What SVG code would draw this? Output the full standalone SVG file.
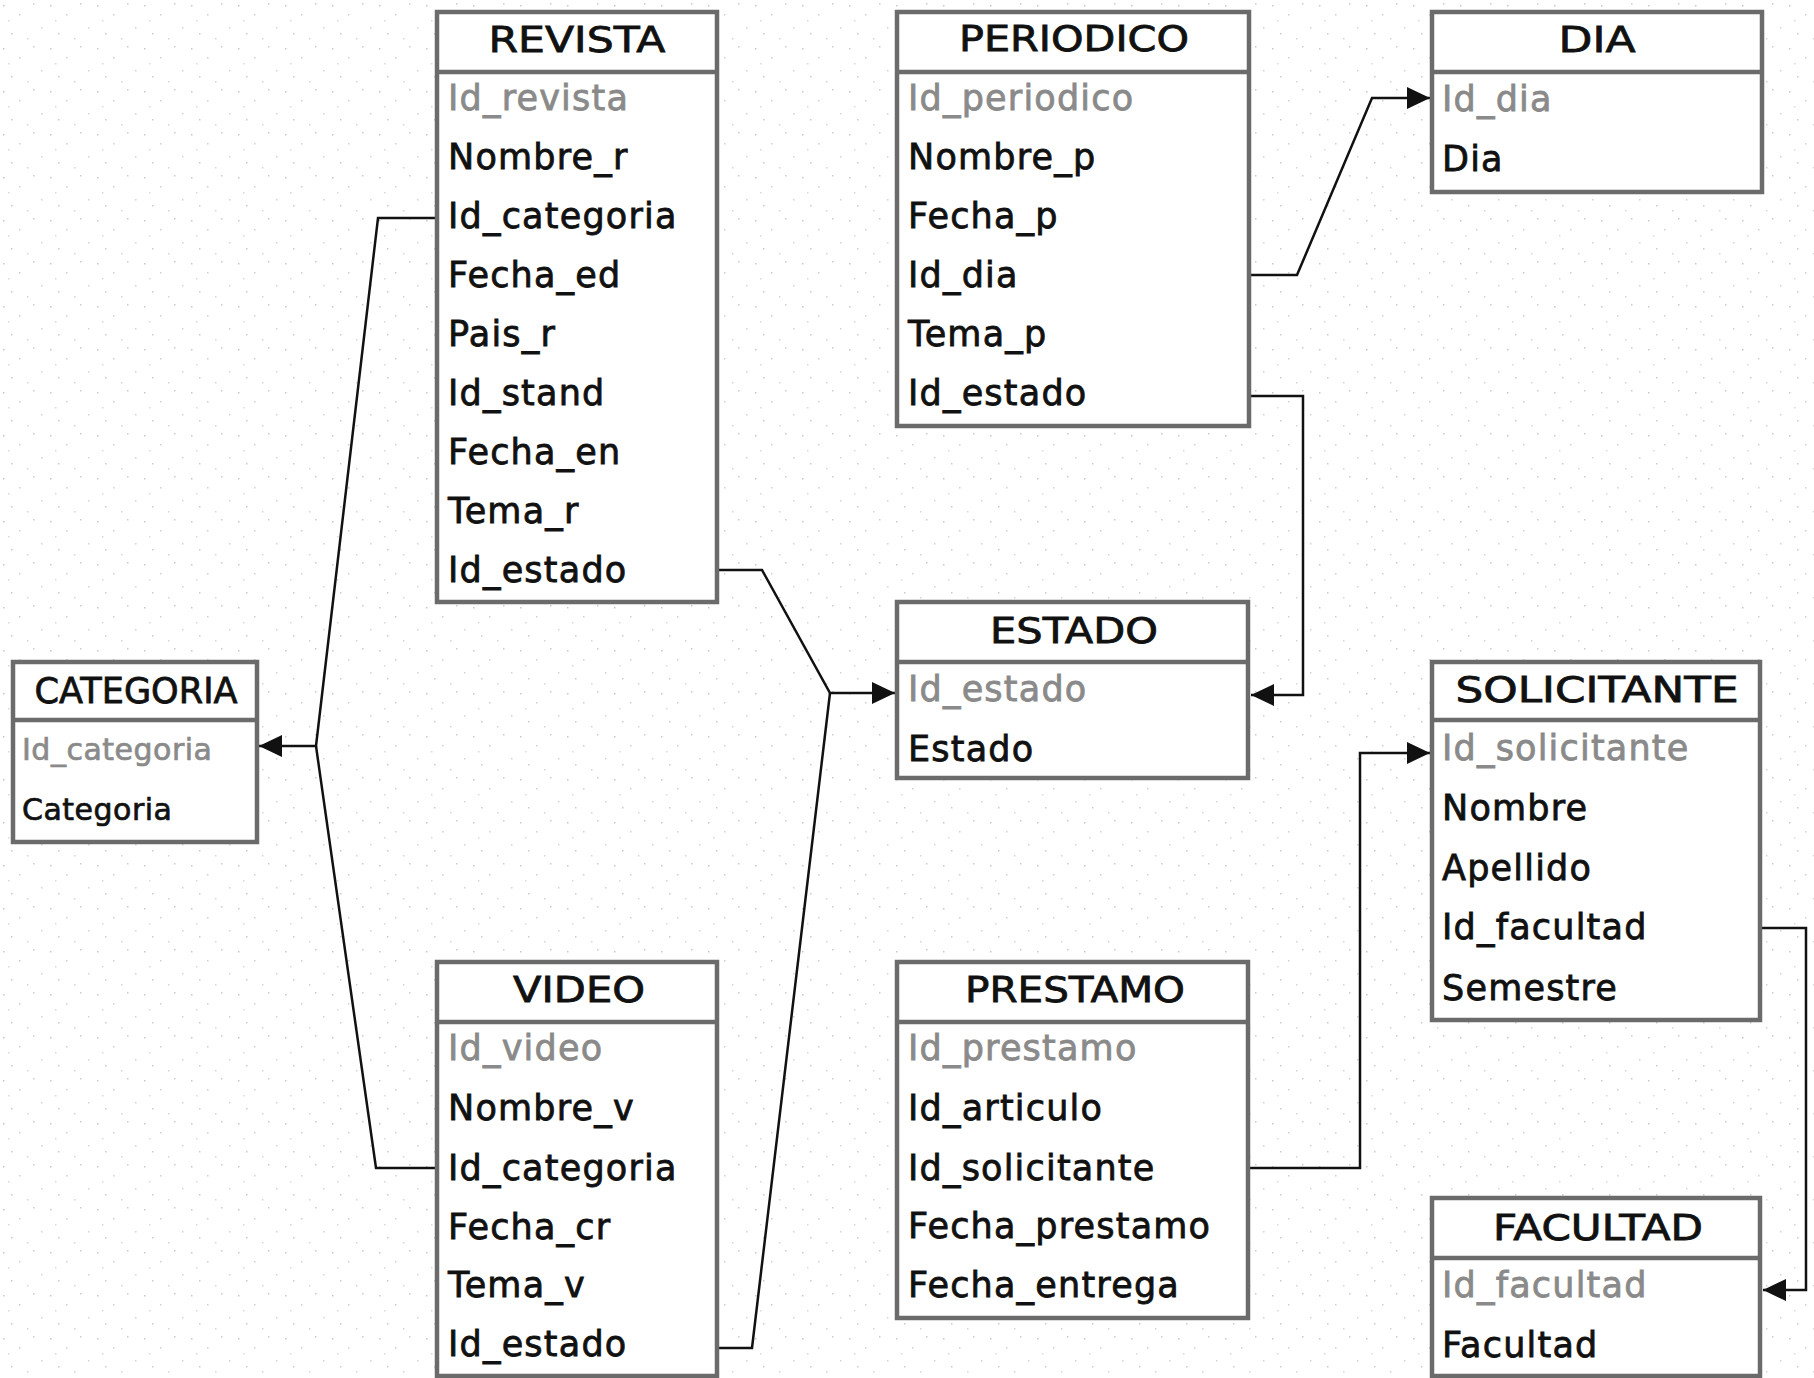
<svg xmlns="http://www.w3.org/2000/svg" width="1814" height="1378" viewBox="0 0 1814 1378">
<style>
.box{fill:#fff;stroke:#6b6b6b;stroke-width:4.5}
.sep{stroke:#6b6b6b;stroke-width:4.5}
.hd{font-family:"DejaVu Sans",sans-serif;font-size:36px;fill:#111;stroke:#111;stroke-width:0.8px;text-anchor:middle}
.f{font-family:"DejaVu Sans",sans-serif;font-size:35px;fill:#111;stroke:#111;stroke-width:0.8px;letter-spacing:1.2px}
.fs{font-family:"DejaVu Sans",sans-serif;font-size:30px;fill:#111;stroke:#111;stroke-width:0.7px;letter-spacing:0.5px}
.k{fill:#8a8a8a;stroke:#8a8a8a}
.c{fill:none;stroke:#111;stroke-width:2.5}
</style>
<defs>
<marker id="ar" markerUnits="userSpaceOnUse" markerWidth="26" markerHeight="24" refX="23" refY="11" orient="auto">
<path d="M0,0 L23,11 L0,22 z" fill="#111"/>
</marker>
<pattern id="spk" width="47" height="43" patternUnits="userSpaceOnUse">
<rect x="3" y="5" width="1.5" height="1.5" fill="#c8c8c8"/>
<rect x="19" y="14" width="1.5" height="1.5" fill="#d0d0d0"/>
<rect x="33" y="3" width="1.5" height="1.5" fill="#cccccc"/>
<rect x="41" y="27" width="1.5" height="1.5" fill="#d4d4d4"/>
<rect x="11" y="33" width="1.5" height="1.5" fill="#cccccc"/>
<rect x="27" y="38" width="1.5" height="1.5" fill="#d6d6d6"/>
<rect x="8" y="20" width="1.5" height="1.5" fill="#dadada"/>
</pattern>
</defs>
<rect width="1814" height="1378" fill="#fff"/>
<rect width="1814" height="1378" fill="url(#spk)"/>

<g id="connectors">
<path class="c" d="M437,218 L378,218 L316,746 L259,746" marker-end="url(#ar)"/>
<path class="c" d="M437,1168 L376,1168 L316,746"/>
<path class="c" d="M717,570 L762,570 L830,693 L895,693" marker-end="url(#ar)"/>
<path class="c" d="M717,1348 L752,1348 L830,693"/>
<path class="c" d="M1249,275 L1297,275 L1372,98 L1430,98" marker-end="url(#ar)"/>
<path class="c" d="M1249,396 L1303,396 L1303,695 L1251,695" marker-end="url(#ar)"/>
<path class="c" d="M1248,1168 L1360,1168 L1360,753 L1430,753" marker-end="url(#ar)"/>
<path class="c" d="M1760,928 L1806,928 L1806,1290 L1763,1290" marker-end="url(#ar)"/>
</g>

<g id="revista">
<rect class="box" x="437" y="12" width="280" height="590"/>
<line class="sep" x1="437" y1="72" x2="717" y2="72"/>
<text class="hd" x="577" y="52" textLength="177" lengthAdjust="spacingAndGlyphs">REVISTA</text>
<text class="f k" x="448" y="110">Id_revista</text>
<text class="f" x="448" y="169">Nombre_r</text>
<text class="f" x="448" y="228">Id_categoria</text>
<text class="f" x="448" y="287">Fecha_ed</text>
<text class="f" x="448" y="346">Pais_r</text>
<text class="f" x="448" y="405">Id_stand</text>
<text class="f" x="448" y="464">Fecha_en</text>
<text class="f" x="448" y="523">Tema_r</text>
<text class="f" x="448" y="582">Id_estado</text>
</g>

<g id="periodico">
<rect class="box" x="897" y="12" width="352" height="414"/>
<line class="sep" x1="897" y1="72" x2="1249" y2="72"/>
<text class="hd" x="1074" y="51" textLength="230" lengthAdjust="spacingAndGlyphs">PERIODICO</text>
<text class="f k" x="908" y="110">Id_periodico</text>
<text class="f" x="908" y="169">Nombre_p</text>
<text class="f" x="908" y="228">Fecha_p</text>
<text class="f" x="908" y="287">Id_dia</text>
<text class="f" x="908" y="346">Tema_p</text>
<text class="f" x="908" y="405">Id_estado</text>
</g>

<g id="dia">
<rect class="box" x="1432" y="12" width="330" height="180"/>
<line class="sep" x1="1432" y1="72" x2="1762" y2="72"/>
<text class="hd" x="1597" y="52" textLength="77" lengthAdjust="spacingAndGlyphs">DIA</text>
<text class="f k" x="1442" y="111">Id_dia</text>
<text class="f" x="1442" y="171">Dia</text>
</g>

<g id="estado">
<rect class="box" x="897" y="602" width="351" height="176"/>
<line class="sep" x1="897" y1="662" x2="1248" y2="662"/>
<text class="hd" x="1074" y="643" textLength="168" lengthAdjust="spacingAndGlyphs">ESTADO</text>
<text class="f k" x="908" y="701">Id_estado</text>
<text class="f" x="908" y="761">Estado</text>
</g>

<g id="categoria">
<rect class="box" x="13" y="662" width="244" height="180"/>
<line class="sep" x1="13" y1="720" x2="257" y2="720"/>
<text class="hd" x="136" y="703" textLength="203" lengthAdjust="spacingAndGlyphs">CATEGORIA</text>
<text class="fs k" x="22" y="760">Id_categoria</text>
<text class="fs" x="22" y="820">Categoria</text>
</g>

<g id="solicitante">
<rect class="box" x="1432" y="662" width="328" height="358"/>
<line class="sep" x1="1432" y1="720" x2="1760" y2="720"/>
<text class="hd" x="1597" y="702" textLength="283" lengthAdjust="spacingAndGlyphs">SOLICITANTE</text>
<text class="f k" x="1442" y="760">Id_solicitante</text>
<text class="f" x="1442" y="820">Nombre</text>
<text class="f" x="1442" y="880">Apellido</text>
<text class="f" x="1442" y="939">Id_facultad</text>
<text class="f" x="1442" y="1000">Semestre</text>
</g>

<g id="video">
<rect class="box" x="437" y="962" width="280" height="414"/>
<line class="sep" x1="437" y1="1022" x2="717" y2="1022"/>
<text class="hd" x="579" y="1002" textLength="132" lengthAdjust="spacingAndGlyphs">VIDEO</text>
<text class="f k" x="448" y="1060">Id_video</text>
<text class="f" x="448" y="1120">Nombre_v</text>
<text class="f" x="448" y="1180">Id_categoria</text>
<text class="f" x="448" y="1239">Fecha_cr</text>
<text class="f" x="448" y="1297">Tema_v</text>
<text class="f" x="448" y="1356">Id_estado</text>
</g>

<g id="prestamo">
<rect class="box" x="897" y="962" width="351" height="356"/>
<line class="sep" x1="897" y1="1022" x2="1248" y2="1022"/>
<text class="hd" x="1075" y="1002" textLength="220" lengthAdjust="spacingAndGlyphs">PRESTAMO</text>
<text class="f k" x="908" y="1060">Id_prestamo</text>
<text class="f" x="908" y="1120">Id_articulo</text>
<text class="f" x="908" y="1180">Id_solicitante</text>
<text class="f" x="908" y="1238">Fecha_prestamo</text>
<text class="f" x="908" y="1297">Fecha_entrega</text>
</g>

<g id="facultad">
<rect class="box" x="1432" y="1198" width="328" height="178"/>
<line class="sep" x1="1432" y1="1258" x2="1760" y2="1258"/>
<text class="hd" x="1598" y="1240" textLength="210" lengthAdjust="spacingAndGlyphs">FACULTAD</text>
<text class="f k" x="1442" y="1297">Id_facultad</text>
<text class="f" x="1442" y="1357">Facultad</text>
</g>
</svg>
